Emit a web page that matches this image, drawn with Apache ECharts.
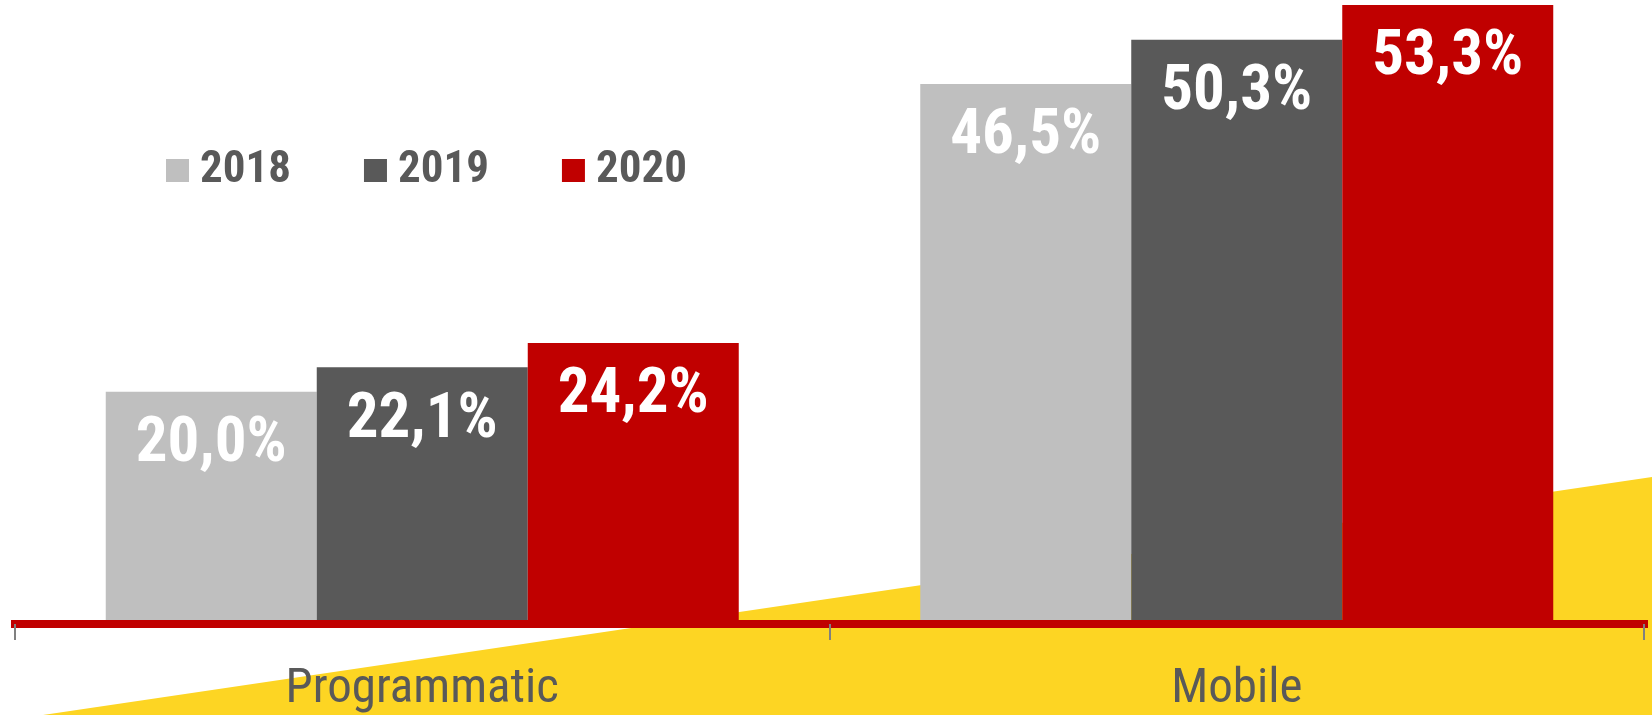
<!DOCTYPE html>
<html>
<head>
<meta charset="utf-8">
<script src="https://cdn.jsdelivr.net/npm/echarts@6/dist/echarts.min.js"></script>
<style>
html,body{margin:0;padding:0;background:#fff;}
#chart{width:1652px;height:715px;}
</style>
</head>
<body>
<div id="chart"></div>
<script>
var categories = ['Programmatic', 'Mobile'];
var years = ['2018', '2019', '2020'];
var values2018 = [20.0, 46.5];
var values2019 = [22.1, 50.3];
var values2020 = [24.2, 53.3];
var colors = ['#BFBFBF', '#595959', '#C00000'];

var narrow = "'Roboto Condensed', 'Open Sans Condensed', 'DejaVu Sans Condensed', sans-serif";

function fmt(p) { return p.value.toFixed(1).replace('.', ',') + '%'; }

var seriesData = [values2018, values2019, values2020];
var series = years.map(function (y, i) {
  return {
    name: y,
    type: 'bar',
    data: seriesData[i],
    barWidth: 211,
    barGap: '0%',
    itemStyle: { color: colors[i] },
    label: {
      show: true,
      position: 'insideTop',
      distance: 22,
      formatter: fmt,
      color: '#FFFFFF',
      fontFamily: narrow,
      fontWeight: 'bold',
      fontSize: 63
    }
  };
});

var chart = echarts.init(document.getElementById('chart'), null, { renderer: 'canvas' });
chart.setOption({
  animation: false,
  backgroundColor: '#FFFFFF',
  graphic: [{
    type: 'polygon',
    z: -10,
    silent: true,
    shape: { points: [[43, 715], [1652, 477], [1652, 715]] },
    style: { fill: '#FDD523' }
  }],
  legend: {
    data: years,
    left: 161,
    top: 143,
    itemWidth: 23,
    itemHeight: 23,
    itemGap: 73,
    icon: 'rect',
    textStyle: {
      color: '#595959',
      fontFamily: narrow,
      fontWeight: 'bold',
      fontSize: 45,
      padding: [5, 0, 0, 6]
    }
  },
  grid: { left: 15, right: 8, top: 0, bottom: 91, containLabel: false },
  xAxis: {
    type: 'category',
    data: categories,
    z: 5,
    axisLine: { show: true, lineStyle: { color: '#C00000', width: 8, cap: 'square' } },
    axisTick: { show: true, length: 16, lineStyle: { color: '#808080', width: 2 } },
    axisLabel: {
      color: '#595959',
      fontFamily: narrow,
      fontSize: 49,
      margin: 41
    }
  },
  yAxis: {
    type: 'value',
    min: 0,
    max: 53.73,
    show: false,
    splitLine: { show: false }
  },
  series: series
});
</script>
</body>
</html>
